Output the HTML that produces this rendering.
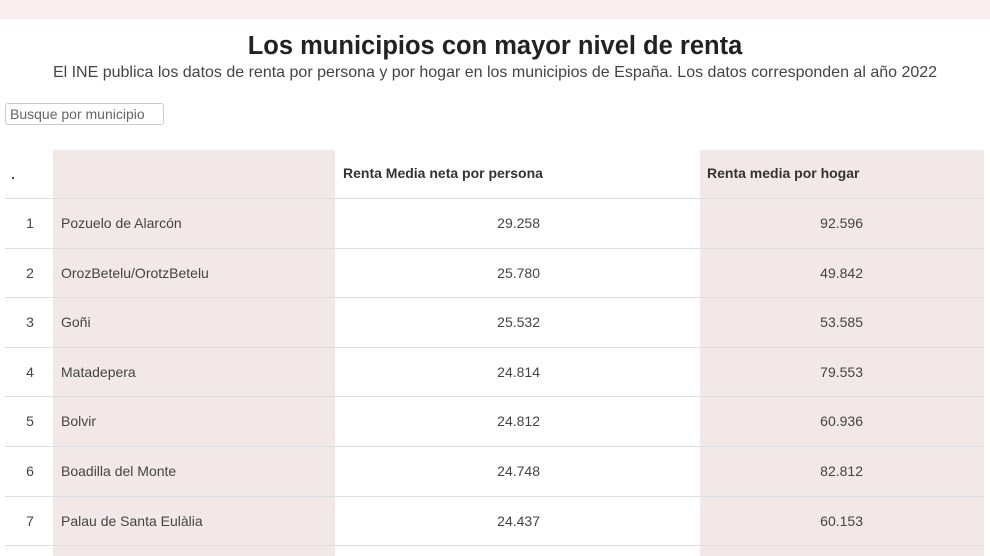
<!DOCTYPE html>
<html><head><meta charset="utf-8"><style>
body{margin:0;width:990px;height:556px;overflow:hidden;background:#fff;font-family:"Liberation Sans",sans-serif;color:#333;position:relative}
.band{position:absolute;left:0;top:0;width:990px;height:19px;background:#fbeeee}
.t{position:absolute;left:0;width:990px;text-align:center}
.sh{position:absolute;top:150px;height:406px;background:#f1e8e7}
.line{position:absolute;left:5px;width:979px;height:1px;background:#dedede}
.c{position:absolute;font-size:14px;color:#444;white-space:nowrap}
.h{position:absolute;font-size:14px;font-weight:bold;color:#333;top:165px}
</style></head><body>
<div class="band"></div>
<div class="t" style="top:32px;font-size:25.5px;font-weight:bold;color:#222">Los municipios con mayor nivel de renta</div>
<div class="t" style="top:64px;font-size:16px;color:#444">El INE publica los datos de renta por persona y por hogar en los municipios de España. Los datos corresponden al año 2022</div>
<div style="position:absolute;left:5px;top:103px;height:22px;border:1px solid #ccc;border-radius:3px;font-size:14px;color:#666;line-height:21px;padding-left:4px;box-sizing:border-box;width:159px">Busque por municipio</div>
<div class="sh" style="left:53px;width:282px"></div>
<div class="sh" style="left:700px;width:284px"></div>
<div class="c" style="left:11px;top:166px;font-weight:bold">.</div>
<div class="h" style="left:343px">Renta Media neta por persona</div>
<div class="h" style="left:707px">Renta media por hogar</div>
<div id="rows"></div>
<script>
var d=[["1","Pozuelo de Alarcón","29.258","92.596"],["2","OrozBetelu/OrotzBetelu","25.780","49.842"],["3","Goñi","25.532","53.585"],["4","Matadepera","24.814","79.553"],["5","Bolvir","24.812","60.936"],["6","Boadilla del Monte","24.748","82.812"],["7","Palau de Santa Eulàlia","24.437","60.153"]];
var h="";
for(var i=0;i<8;i++){h+='<div class="line" style="top:'+(198+i*49.6)+'px"></div>';}
d.forEach(function(r,i){var y=215+i*49.6;
h+='<div class="c" style="left:15px;width:30px;text-align:center;top:'+y+'px">'+r[0]+'</div>';
h+='<div class="c" style="left:61px;top:'+y+'px">'+r[1]+'</div>';
h+='<div class="c" style="left:440px;width:100px;text-align:right;top:'+y+'px">'+r[2]+'</div>';
h+='<div class="c" style="left:763px;width:100px;text-align:right;top:'+y+'px">'+r[3]+'</div>';});
document.getElementById("rows").innerHTML=h;
</script>
</body></html>
